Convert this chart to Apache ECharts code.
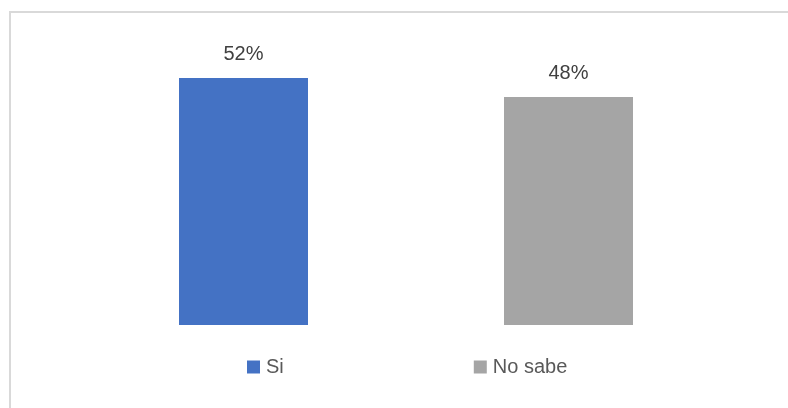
<!DOCTYPE html>
<html>
<head>
<meta charset="utf-8">
<script src="https://cdn.jsdelivr.net/npm/echarts@6/dist/echarts.min.js"></script>
<style>
  html, body { margin: 0; padding: 0; background: #ffffff; }
  #chart { width: 788px; height: 408px; }
</style>
</head>
<body>
<div id="chart"></div>
<script>
// Survey answers and their shares (percent)
const categories = ['Si', 'No sabe'];
const siValues = [52, '-'];
const noSabeValues = ['-', 48];
const seriesColors = ['#4472C4', '#A5A5A5'];

const chart = echarts.init(document.getElementById('chart'), null, { renderer: 'canvas' });

const labelStyle = {
  show: true,
  position: 'top',
  distance: 14,
  formatter: p => p.value + '%',
  fontFamily: 'Liberation Sans, Arial, sans-serif',
  fontSize: 20,
  color: '#404040'
};

chart.setOption({
  animation: false,
  backgroundColor: '#ffffff',
  graphic: [{
    type: 'rect',
    shape: { x: 10, y: 12, width: 820, height: 440 },
    style: { fill: 'none', stroke: '#d9d9d9', lineWidth: 2 },
    silent: true
  }],
  grid: { left: 81, right: 57, top: 40, bottom: 83 },
  legend: {
    data: categories,
    left: 242,
    top: 352,
    icon: 'rect',
    itemWidth: 13,
    itemHeight: 13,
    itemGap: 190,
    textStyle: {
      fontFamily: 'Liberation Sans, Arial, sans-serif',
      fontSize: 20,
      color: '#595959',
      padding: [0, 0, 0, 1]
    }
  },
  xAxis: {
    type: 'category',
    data: categories,
    axisLine: { show: false },
    axisTick: { show: false },
    axisLabel: { show: false }
  },
  yAxis: {
    type: 'value',
    min: 0,
    max: 60,
    show: false,
    splitLine: { show: false }
  },
  series: [
    {
      name: categories[0],
      type: 'bar',
      stack: 'share',
      data: siValues,
      barWidth: 129,
      itemStyle: { color: seriesColors[0] },
      label: labelStyle
    },
    {
      name: categories[1],
      type: 'bar',
      stack: 'share',
      data: noSabeValues,
      barWidth: 129,
      itemStyle: { color: seriesColors[1] },
      label: labelStyle
    }
  ]
});
</script>
</body>
</html>
